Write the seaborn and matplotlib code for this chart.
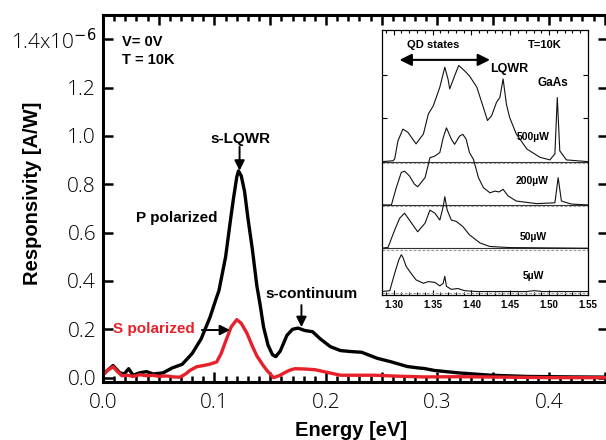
import numpy as np
import pandas as pd
import matplotlib
matplotlib.use('Agg')
import matplotlib.pyplot as plt
from matplotlib.ticker import MultipleLocator, FuncFormatter, FixedLocator
import seaborn as sns

# ---------------- data ----------------
# main panel: P polarized (black)
p_energy = [0.000, 0.004, 0.009, 0.015, 0.019, 0.023, 0.027, 0.033, 0.039, 0.045,
            0.054, 0.062, 0.071, 0.080, 0.088, 0.096, 0.101, 0.104, 0.110, 0.114,
            0.117, 0.120, 0.1215, 0.124, 0.127, 0.130, 0.134, 0.138, 0.141, 0.144,
            0.148, 0.152, 0.155, 0.159, 0.165, 0.170, 0.175, 0.181, 0.188, 0.195,
            0.204, 0.213, 0.222, 0.232, 0.246, 0.258, 0.273, 0.283, 0.288, 0.297,
            0.318, 0.348, 0.380, 0.420, 0.453]
p_resp = [0.015, 0.030, 0.050, 0.020, 0.015, 0.037, 0.010, 0.020, 0.025, 0.015,
          0.020, 0.040, 0.055, 0.100, 0.160, 0.250, 0.320, 0.360, 0.500, 0.640,
          0.740, 0.830, 0.855, 0.835, 0.770, 0.660, 0.530, 0.380, 0.300, 0.210,
          0.135, 0.095, 0.087, 0.110, 0.175, 0.200, 0.205, 0.195, 0.190, 0.160,
          0.128, 0.112, 0.108, 0.105, 0.080, 0.066, 0.046, 0.040, 0.038, 0.030,
          0.020, 0.010, 0.005, 0.003, 0.002]

# main panel: S polarized (red)
s_energy = [0.000, 0.004, 0.009, 0.013, 0.017, 0.022, 0.027, 0.033, 0.039, 0.045,
            0.050, 0.057, 0.063, 0.069, 0.074, 0.078, 0.084, 0.090, 0.096, 0.102,
            0.106, 0.110, 0.115, 0.120, 0.124, 0.129, 0.134, 0.138, 0.143, 0.147,
            0.153, 0.158, 0.162, 0.167, 0.172, 0.180, 0.190, 0.198, 0.205, 0.213,
            0.230, 0.243, 0.265, 0.288, 0.320, 0.360, 0.400, 0.453]
s_resp = [0.010, 0.030, 0.045, 0.025, 0.008, 0.010, 0.005, 0.012, 0.008, 0.010,
          0.005, 0.007, 0.003, 0.002, 0.015, 0.030, 0.045, 0.050, 0.056, 0.065,
          0.100, 0.150, 0.210, 0.240, 0.225, 0.185, 0.130, 0.090, 0.055, 0.030,
          0.000, 0.008, 0.018, 0.030, 0.037, 0.036, 0.033, 0.025, 0.018, 0.010,
          0.010, 0.010, 0.006, 0.003, 0.004, 0.002, 0.000, 0.000]

# inset: PL spectra (energy in eV, height above own baseline)
pl_labels = ['500µW', '200µW', '50µW', '5µW']
pl500_e = [1.2850, 1.2992, 1.3013, 1.3055, 1.3119, 1.3182, 1.3288, 1.3383, 1.3446, 1.3510,
           1.3594, 1.3658, 1.3700, 1.3721, 1.3784, 1.3837, 1.3911, 1.3975, 1.4070, 1.4154,
           1.4207, 1.4260, 1.4323, 1.4366, 1.4408, 1.4450, 1.4492, 1.4577, 1.4714, 1.4883,
           1.5010, 1.5074, 1.5105, 1.5137, 1.5222, 1.5500]
pl500_h = [0.00, 0.02, 0.06, 0.48, 0.75, 0.68, 0.41, 0.64, 1.10, 1.29,
           1.72, 2.18, 1.90, 1.68, 1.98, 2.22, 2.10, 1.98, 1.72, 1.25,
           0.95, 1.06, 1.37, 1.48, 1.91, 1.33, 1.02, 0.64, 0.29, 0.10,
           0.04, 0.18, 1.48, 0.25, 0.04, 0.00]
pl200_e = [1.2850, 1.2971, 1.3034, 1.3098, 1.3140, 1.3203, 1.3267, 1.3309, 1.3404, 1.3467,
           1.3531, 1.3594, 1.3637, 1.3679, 1.3742, 1.3784, 1.3848, 1.3890, 1.3932, 1.3975,
           1.4027, 1.4091, 1.4154, 1.4239, 1.4302, 1.4355, 1.4408, 1.4471, 1.4577, 1.4841,
           1.5074, 1.5116, 1.5158, 1.5285, 1.5500]
pl200_h = [0.00, 0.00, 0.40, 0.75, 0.78, 0.67, 0.48, 0.42, 0.63, 1.09,
           1.13, 1.21, 1.55, 1.78, 1.52, 1.40, 1.59, 1.63, 1.52, 1.21,
           1.05, 0.63, 0.40, 0.28, 0.32, 0.30, 0.36, 0.21, 0.09, 0.03,
           0.05, 0.63, 0.09, 0.02, 0.00]
pl50_e = [1.2850, 1.2928, 1.3013, 1.3076, 1.3140, 1.3203, 1.3309, 1.3404, 1.3467, 1.3531,
          1.3594, 1.3637, 1.3658, 1.3689, 1.3742, 1.3806, 1.3890, 1.3975, 1.4112, 1.4239,
          1.4492, 1.5500]
pl50_h = [0.00, 0.02, 0.42, 0.69, 0.81, 0.65, 0.38, 0.58, 0.88, 0.81,
          0.65, 0.96, 1.19, 0.88, 0.65, 0.62, 0.50, 0.31, 0.12, 0.04,
          0.015, 0.00]
pl5_e = [1.2850, 1.2950, 1.3013, 1.3066, 1.3098, 1.3119, 1.3161, 1.3224, 1.3288, 1.3383,
         1.3446, 1.3531, 1.3594, 1.3637, 1.3658, 1.3679, 1.3742, 1.3827, 1.3911, 1.4070,
         1.4704, 1.4809, 1.4915, 1.5500]
pl5_h = [0.00, 0.02, 0.42, 0.73, 0.85, 0.79, 0.58, 0.42, 0.27, 0.19,
         0.23, 0.21, 0.13, 0.19, 0.35, 0.12, 0.05, 0.07, 0.02, 0.00,
         0.00, 0.02, 0.00, 0.00]

main_xticks = [0.0, 0.1, 0.2, 0.3, 0.4]
main_yticks = [0.0, 0.2, 0.4, 0.6, 0.8, 1.0, 1.2, 1.4]
inset_xticks = [1.30, 1.35, 1.40, 1.45, 1.50, 1.55]

# ---------------- style ----------------
sns.set_theme(style='ticks')
plt.rcParams['font.family'] = ['Liberation Sans', 'DejaVu Sans']
plt.rcParams['mathtext.fontset'] = 'dejavusans'
plt.rcParams['text.color'] = 'black'
plt.rcParams['axes.labelcolor'] = 'black'
plt.rcParams['xtick.color'] = 'black'
plt.rcParams['ytick.color'] = 'black'
plt.rcParams['xtick.labelcolor'] = 'black'
plt.rcParams['ytick.labelcolor'] = 'black'

BLACK = '#000000'
RED = '#e8202a'

fig = plt.figure(figsize=(6.06, 4.4), dpi=100)
fig.patch.set_facecolor('white')
ax = fig.add_axes([103 / 606, 58 / 440, 505 / 606, 367 / 440])
ax.set_facecolor('white')

df_p = pd.DataFrame({'Energy': p_energy, 'Resp': p_resp})
df_s = pd.DataFrame({'Energy': s_energy, 'Resp': s_resp})
sns.lineplot(data=df_p, x='Energy', y='Resp', ax=ax, color=BLACK, lw=2.4,
             sort=False, estimator=None)
sns.lineplot(data=df_s, x='Energy', y='Resp', ax=ax, color=RED, lw=2.4,
             sort=False, estimator=None)

ax.set_xlim(0, 0.453)
ax.set_ylim(-0.018, 1.50)

for sp in ax.spines.values():
    sp.set_linewidth(2.2)
    sp.set_color('black')

ax.xaxis.set_major_locator(MultipleLocator(0.05))
ax.xaxis.set_minor_locator(MultipleLocator(0.01))


def xfmt(v, pos):
    for t in main_xticks:
        if abs(v - t) < 1e-6:
            return f'{t:.1f}'
    return ''


ax.xaxis.set_major_formatter(FuncFormatter(xfmt))
ax.yaxis.set_major_locator(FixedLocator(main_yticks))
ylabels = [f'{v:.1f}' for v in main_yticks]
ylabels[-1] = r'1.4x10$^{-6}$'
ax.set_yticklabels(ylabels)

ax.tick_params(which='both', direction='in', top=True, right=True,
               color='black', width=1.8)
ax.tick_params(which='major', length=7)
ax.tick_params(which='minor', length=4)
ax.tick_params(axis='x', which='major', pad=8)
ax.tick_params(axis='y', which='major', pad=5)
for lab in ax.get_xticklabels() + ax.get_yticklabels():
    lab.set_fontfamily(['Open Sans', 'DejaVu Sans'])
    lab.set_fontweight('light')
    lab.set_fontsize(15)
    lab.set_color('black')

ax.set_xlabel('Energy [eV]', fontsize=14.5, fontweight='bold', color='black')
ax.set_ylabel('Responsivity [A/W]', fontsize=14.5, fontweight='bold', color='black')
ax.xaxis.set_label_coords(0.491, -0.1335)
ax.xaxis.label.set_va('center')
ax.yaxis.set_label_coords(-0.1396, 0.515)
ax.yaxis.label.set_va('center')

# annotations on main panel
ax.text(0.017, 1.39, 'V= 0V', fontsize=10.5, fontweight='bold', ha='left', va='center',
        color='black')
ax.text(0.017, 1.315, 'T = 10K', fontsize=10.5, fontweight='bold', ha='left', va='center',
        color='black')
ax.text(0.123, 0.988, 's-LQWR', fontsize=11, fontweight='bold', ha='center', va='center',
        color='black')
ax.text(0.066, 0.661, 'P polarized', fontsize=11, fontweight='bold', ha='center',
        va='center', color='black')
ax.text(0.187, 0.346, 's-continuum', fontsize=11, fontweight='bold', ha='center',
        va='center', color='black')
ax.text(0.046, 0.20, 'S polarized', fontsize=11, fontweight='bold', ha='center',
        va='center', color=RED)

arrow_kw = dict(arrowstyle='-|>,head_width=0.25,head_length=0.5', color='black', lw=1.4,
                shrinkA=0, shrinkB=0)
ax.annotate('', xy=(0.1225, 0.856), xytext=(0.1225, 0.955), arrowprops=arrow_kw)
ax.annotate('', xy=(0.178, 0.209), xytext=(0.178, 0.300), arrowprops=arrow_kw)
ax.annotate('', xy=(0.114, 0.197), xytext=(0.0887, 0.197), arrowprops=arrow_kw)

# ---------------- inset ----------------
axi = fig.add_axes([382 / 606, 145 / 440, 206 / 606, 265 / 440])
axi.set_facecolor('white')
axi.set_xlim(1.285, 1.55)
axi.set_ylim(-0.08, 6.04)

series = [(pl500_e, pl500_h), (pl200_e, pl200_h), (pl50_e, pl50_h), (pl5_e, pl5_h)]
n = len(series)
for i, (e, h) in enumerate(series):
    base = n - 1 - i
    if base > 0:
        axi.axhline(base, color='#333333', lw=0.8, zorder=1)
    axi.axhline(base - 0.03, color='#9a9a9a', lw=0.8, ls=(0, (2.5, 1.5)), zorder=1)
    d = pd.DataFrame({'E': e, 'H': np.asarray(h) + base})
    sns.lineplot(data=d, x='E', y='H', ax=axi, color='#111111', lw=0.8,
                 sort=False, estimator=None, zorder=3)

axi.set_xlabel('')
axi.set_ylabel('')
for sp in axi.spines.values():
    sp.set_linewidth(0.9)
    sp.set_color('black')
axi.xaxis.set_major_locator(FixedLocator(inset_xticks))
axi.xaxis.set_minor_locator(MultipleLocator(0.01))
axi.set_xticklabels([f'{v:.2f}' for v in inset_xticks])
axi.yaxis.set_major_locator(FixedLocator([1, 2, 3, 4, 5]))
axi.set_yticklabels([])
axi.tick_params(which='both', direction='in', top=True, right=True, width=0.8,
                color='black')
axi.tick_params(which='major', length=3.5)
axi.tick_params(which='minor', length=2)
axi.tick_params(axis='x', pad=3.5)
for lab in axi.get_xticklabels():
    lab.set_fontsize(7)
    lab.set_fontweight('bold')
    lab.set_color('black')

axi.text(1.351, 5.69, 'QD states', fontsize=8, fontweight='bold', ha='center', va='center',
         color='black')
axi.text(1.4947, 5.69, 'T=10K', fontsize=8, fontweight='bold', ha='center', va='center',
         color='black')
axi.annotate('', xy=(1.3076, 5.35), xytext=(1.4239, 5.35),
             arrowprops=dict(arrowstyle='<|-|>,head_width=0.3,head_length=0.6',
                             color='black', lw=1.5, shrinkA=0, shrinkB=0))
axi.text(1.4482, 5.13, 'LQWR', fontsize=9, fontweight='bold', ha='center', va='center',
         color='black')
axi.text(1.5052, 4.81, 'GaAs', fontsize=8.5, fontweight='bold', ha='center', va='center',
         color='black')
label_pos = [(1.4799, 3.56), (1.4778, 2.55), (1.4799, 1.27), (1.4799, 0.35)]
for lab, (xx, yy) in zip(pl_labels, label_pos):
    axi.text(xx, yy, lab, fontsize=7.5, fontweight='bold', ha='center', va='center',
             color='black')

fig.savefig('out.png', dpi=100, facecolor='white')
